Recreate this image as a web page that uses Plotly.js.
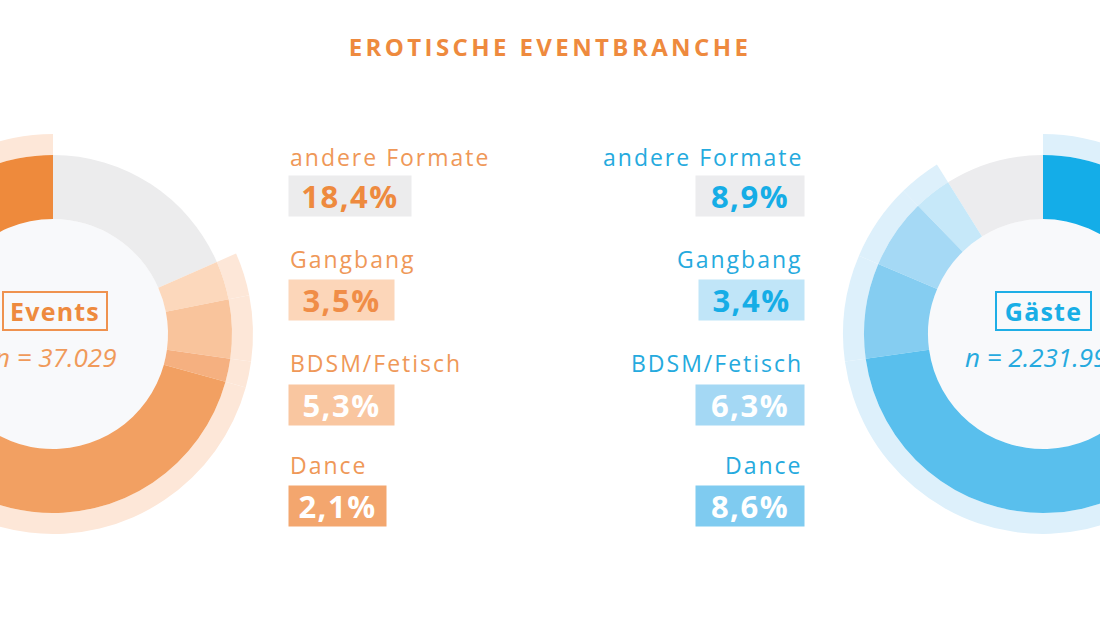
<!DOCTYPE html>
<html>
<head>
<meta charset="utf-8">
<script src="https://cdn.plot.ly/plotly-3.0.1.min.js"></script>
<style>
html, body { margin:0; padding:0; overflow:hidden; background:#ffffff; width:1100px; height:618px; }
#chart { position:absolute; left:-200px; top:0; width:1500px; height:618px; }
</style>
</head>
<body>
<div id="chart"></div>
<script>
// ---------------- data ----------------
const chartTitle = 'EROTISCHE EVENTBRANCHE';
const categories = ['andere Formate', 'Gangbang', 'BDSM/Fetisch', 'Dance', 'Swinger', 'Party'];
const eventShares = [18.4, 3.5, 5.3, 2.1, 45.2, 25.5];   // % of events
const guestShares = [8.9, 3.4, 6.3, 8.6, 46.8, 26.0];    // % of guests
const listedCount = 4;                                    // categories listed in the middle
const eventTitle = 'Events';
const eventN = 'n = 37.029';
const guestTitle = 'Gäste';
const guestN = 'n = 2.231.995';

// ---------------- styling ----------------
const OFF = 200, W = 1500, H = 618;
const px = x => (x + OFF) / W;
const py = y => 1 - y / H;
const FONT = 'Open Sans';

const orangeRing = ['#ececed', '#fcd8bc', '#f9c49c', '#f5b080', '#f2a062', '#ee8a3c'];
const orangeBand = '#fde7d8';
const blueRing = ['#ececee', '#c6e8f9', '#a5d9f5', '#85cdf1', '#59bfed', '#14ade8'];
const blueBand = '#ddf0fb';

const leftBoxBg = ['#ececed', '#fcd6b9', '#f9c6a0', '#f3a66e'];
const leftBoxFg = ['#ee8a3e', '#f08d47', '#ffffff', '#ffffff'];
const rightBoxBg = ['#ececee', '#c0e5f8', '#a4d8f4', '#7fcbf0'];
const rightBoxFg = ['#16ade6', '#16ade6', '#ffffff', '#ffffff'];
const leftBoxW = [122, 105, 105, 97];
const rightBoxW = [108, 105, 108, 108];
const labelY = [157, 259, 363, 465];
const boxY = [196, 300, 405, 506];

const fmt = v => v.toFixed(1).replace('.', ',') + '%';

function donut(cx, cy, rIn, rOut, rBand, values, ringColors, bandColor, dir) {
  const dom = r => ({x: [px(cx - r), px(cx + r)], y: [py(cy + r), py(cy - r)]});
  const total = values.reduce((a, b) => a + b, 0);
  // Plotly places the first counter-clockwise slice on the clockwise side of 12 o'clock;
  // rotate it back so it starts at 12 o'clock and runs counter-clockwise.
  const rot = dir === 'counterclockwise' ? -values[0] / total * 360 : 0;
  const common = {type: 'pie', values: values, labels: categories, sort: false, direction: dir,
                  rotation: rot, textinfo: 'none', showlegend: false};
  const band = Object.assign({}, common, {
    hole: rOut / rBand, domain: dom(rBand), hoverinfo: 'skip',
    marker: {colors: values.map((v, i) => i === 0 ? 'rgba(0,0,0,0)' : bandColor), line: {width: 0}}
  });
  const ring = Object.assign({}, common, {
    hole: rIn / rOut, domain: dom(rOut), hoverinfo: 'label+percent',
    marker: {colors: ringColors, line: {width: 0}}
  });
  return [band, ring];
}

const L = {cx: 53, cy: 334}, R = {cx: 1043, cy: 334};
const rIn = 115, rOut = 179, rBand = 200;

const data = [
  ...donut(L.cx, L.cy, rIn, rOut, rBand, eventShares, orangeRing, orangeBand, 'clockwise'),
  ...donut(R.cx, R.cy, rIn, rOut, rBand, guestShares, blueRing, blueBand, 'counterclockwise')
];

const annotations = [];
const spacing = [];
function ann(o, ls) { annotations.push(Object.assign({xref: 'paper', yref: 'paper', showarrow: false}, o)); spacing.push(ls || 0); }

for (let i = 0; i < listedCount; i++) {
  // left column (events)
  ann({x: px(288), y: py(labelY[i]), xanchor: 'left', yanchor: 'middle', align: 'left',
       text: categories[i], font: {family: FONT, size: 23, color: '#ef9858'}}, 2);
  ann({x: px(288), y: py(boxY[i]), xanchor: 'left', yanchor: 'middle', align: 'center', valign: 'middle',
       width: leftBoxW[i], height: 40, borderpad: 0, bgcolor: leftBoxBg[i],
       text: fmt(eventShares[i]), font: {family: FONT, size: 31, weight: 700, color: leftBoxFg[i]}}, 1.5);
  // right column (guests)
  ann({x: px(805), y: py(labelY[i]), xanchor: 'right', yanchor: 'middle', align: 'right',
       text: categories[i], font: {family: FONT, size: 23, color: '#25aade'}}, 2);
  ann({x: px(805), y: py(boxY[i]), xanchor: 'right', yanchor: 'middle', align: 'center', valign: 'middle',
       width: rightBoxW[i], height: 40, borderpad: 0, bgcolor: rightBoxBg[i],
       text: fmt(guestShares[i]), font: {family: FONT, size: 31, weight: 700, color: rightBoxFg[i]}}, 1.5);
}

// centre labels
ann({x: px(55), y: py(311), xanchor: 'center', yanchor: 'middle', width: 102, height: 36, borderpad: 0,
     bordercolor: '#ef924f', borderwidth: 2, text: eventTitle,
     font: {family: FONT, size: 25, weight: 700, color: '#ee8a3e'}}, 1.2);
ann({x: px(55), y: py(357), xanchor: 'center', yanchor: 'middle', text: eventN,
     font: {family: FONT, size: 26, style: 'italic', color: '#f09a5a'}}, 0);
ann({x: px(1043), y: py(311), xanchor: 'center', yanchor: 'middle', width: 93, height: 36, borderpad: 0,
     bordercolor: '#1eaee6', borderwidth: 2, text: guestTitle,
     font: {family: FONT, size: 25, weight: 700, color: '#19aee6'}}, 1.2);
ann({x: px(1043), y: py(357), xanchor: 'center', yanchor: 'middle', text: guestN,
     font: {family: FONT, size: 26, style: 'italic', color: '#26aadf'}}, 0);

const shapes = [L, R].map(c => ({
  type: 'circle', xref: 'paper', yref: 'paper', layer: 'below',
  x0: px(c.cx - rIn), x1: px(c.cx + rIn), y0: py(c.cy + rIn), y1: py(c.cy - rIn),
  fillcolor: '#f8f9fb', line: {width: 0}
}));

const layout = {
  width: W, height: H,
  margin: {l: 0, r: 0, t: 0, b: 0},
  paper_bgcolor: '#ffffff', plot_bgcolor: '#ffffff',
  title: {text: chartTitle, x: 0.5, xanchor: 'center', y: py(48), yanchor: 'middle',
          font: {family: FONT, size: 24, weight: 700, color: '#ee8a3e'}},
  annotations: annotations,
  shapes: shapes
};

Plotly.newPlot('chart', data, layout, {displayModeBar: false, staticPlot: true}).then(gd => {
  const t = gd.querySelector('.gtitle');
  if (t) t.style.letterSpacing = '3.4px';
  gd.querySelectorAll('g.annotation').forEach(g => {
    const i = +g.getAttribute('data-index');
    const txt = g.querySelector('text.annotation-text');
    if (txt && spacing[i]) txt.style.letterSpacing = spacing[i] + 'px';
  });
});
</script>
</body>
</html>
